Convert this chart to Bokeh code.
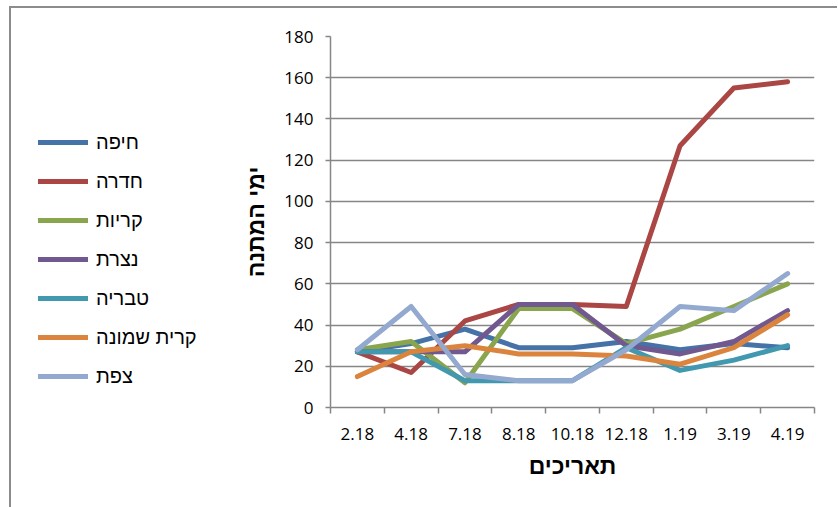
from bokeh.plotting import figure
from bokeh.layouts import row
from bokeh.models import Range1d, FixedTicker, Legend, LegendItem
from bokeh.embed import file_html
from bokeh.resources import INLINE

# Waiting days per city, by survey date
dates = ["2.18", "4.18", "7.18", "8.18", "10.18", "12.18", "1.19", "3.19", "4.19"]
haifa = [27, 31, 38, 29, 29, 32, 28, 31, 29]
hadera = [27, 17, 42, 50, 50, 49, 127, 155, 158]
krayot = [28, 32, 12, 48, 48, 31, 38, 49, 60]
nazareth = [27, 27, 27, 50, 50, 30, 26, 32, 47]
tiberias = [27, 27, 13, 13, 13, 29, 18, 23, 30]
kiryat_shmona = [15, 27, 30, 26, 26, 25, 21, 29, 45]
safed = [28, 49, 16, 13, 13, 28, 49, 47, 65]

series = [
    ("חיפה", haifa, "#4572A7"),
    ("חדרה", hadera, "#AA4643"),
    ("קריות", krayot, "#89A54E"),
    ("נצרת", nazareth, "#71588F"),
    ("טבריה", tiberias, "#4198AF"),
    ("קרית שמונה", kiryat_shmona, "#DB843D"),
    ("צפת", safed, "#93A9CF"),
]

# each date sits in the middle of its slot; slot edges carry the tick marks
xs = [i + 0.5 for i in range(len(dates))]
edges = list(range(len(dates) + 1))

GRID = "#868686"
H = 499
LEG_W = 200
LINE_W = 5

# ---- main chart ----
p = figure(
    width=826 - LEG_W, height=H,
    x_range=Range1d(0, len(dates)), y_range=Range1d(0, 180),
    output_backend="svg", toolbar_location=None,
    min_border_left=319 - LEG_W, min_border_right=23,
    min_border_top=28, min_border_bottom=100,
)
p.outline_line_color = None
p.background_fill_color = "white"
p.border_fill_color = "white"

for name, vals, color in series:
    p.line(xs, vals, line_color=color, line_width=LINE_W,
           line_join="round", line_cap="round")

# x axis: labels at slot centres, marks at slot edges
p.xaxis.ticker = FixedTicker(ticks=xs, minor_ticks=edges)
p.xaxis.major_label_overrides = {x: d for x, d in zip(xs, dates)}
p.xaxis.major_tick_line_color = None
p.xaxis.major_tick_out = 0
p.xaxis.major_tick_in = 0
p.xaxis.minor_tick_line_color = GRID
p.xaxis.minor_tick_line_width = 1.5
p.xaxis.minor_tick_out = 6
p.xaxis.minor_tick_in = 0
p.xaxis.major_label_standoff = 14
p.xaxis.axis_label = "תאריכים"
p.xaxis.axis_label_standoff = 10
p.xgrid.grid_line_color = None

p.yaxis.ticker = FixedTicker(ticks=list(range(0, 181, 20)))
p.yaxis.major_tick_line_color = GRID
p.yaxis.major_tick_line_width = 1.5
p.yaxis.major_tick_out = 5
p.yaxis.major_tick_in = 0
p.yaxis.minor_tick_line_color = None
p.yaxis.major_label_standoff = 12
p.yaxis.axis_label = "ימי המתנה"
p.yaxis.axis_label_standoff = 12
p.ygrid.grid_line_color = GRID
p.ygrid.grid_line_width = 1.5

for ax in (p.xaxis, p.yaxis):
    ax.axis_line_color = GRID
    ax.axis_line_width = 1.5
    ax.major_label_text_font = "Open Sans"
    ax.major_label_text_font_size = "17px"
    ax.major_label_text_color = "black"
    ax.axis_label_text_font = "Liberation Sans"
    ax.axis_label_text_font_size = "23px"
    ax.axis_label_text_font_style = "bold"
    ax.axis_label_text_color = "black"

# ---- legend panel on the left ----
lg = figure(
    width=LEG_W, height=H, x_range=Range1d(0, 1), y_range=Range1d(0, 1),
    x_axis_type=None, y_axis_type=None,
    output_backend="svg", toolbar_location=None,
    min_border=0,
)
lg.outline_line_color = None
lg.xgrid.grid_line_color = None
lg.ygrid.grid_line_color = None

# key-only renderers: a single undefined point gives the legend its swatch
items = []
for name, vals, color in series:
    r = lg.line([0.0], [float("nan")], line_color=color, line_width=LINE_W,
                line_cap="round")
    items.append(LegendItem(label=name, renderers=[r]))

legend = Legend(
    items=items, location=(27, 19),
    glyph_width=50, glyph_height=24, spacing=15,
    label_standoff=8, padding=0, margin=0,
    label_text_font="Liberation Sans", label_text_font_size="20px",
    label_text_color="black",
    background_fill_alpha=0, border_line_color=None,
)
lg.add_layout(legend, "center")

layout = row(lg, p, spacing=0)
layout.styles = {
    "border-left": "2px solid #8c8c8c",
    "border-top": "2px solid #8c8c8c",
    "margin-left": "9px",
    "margin-top": "6px",
}

open("out.html", "w").write(file_html(layout, INLINE))
